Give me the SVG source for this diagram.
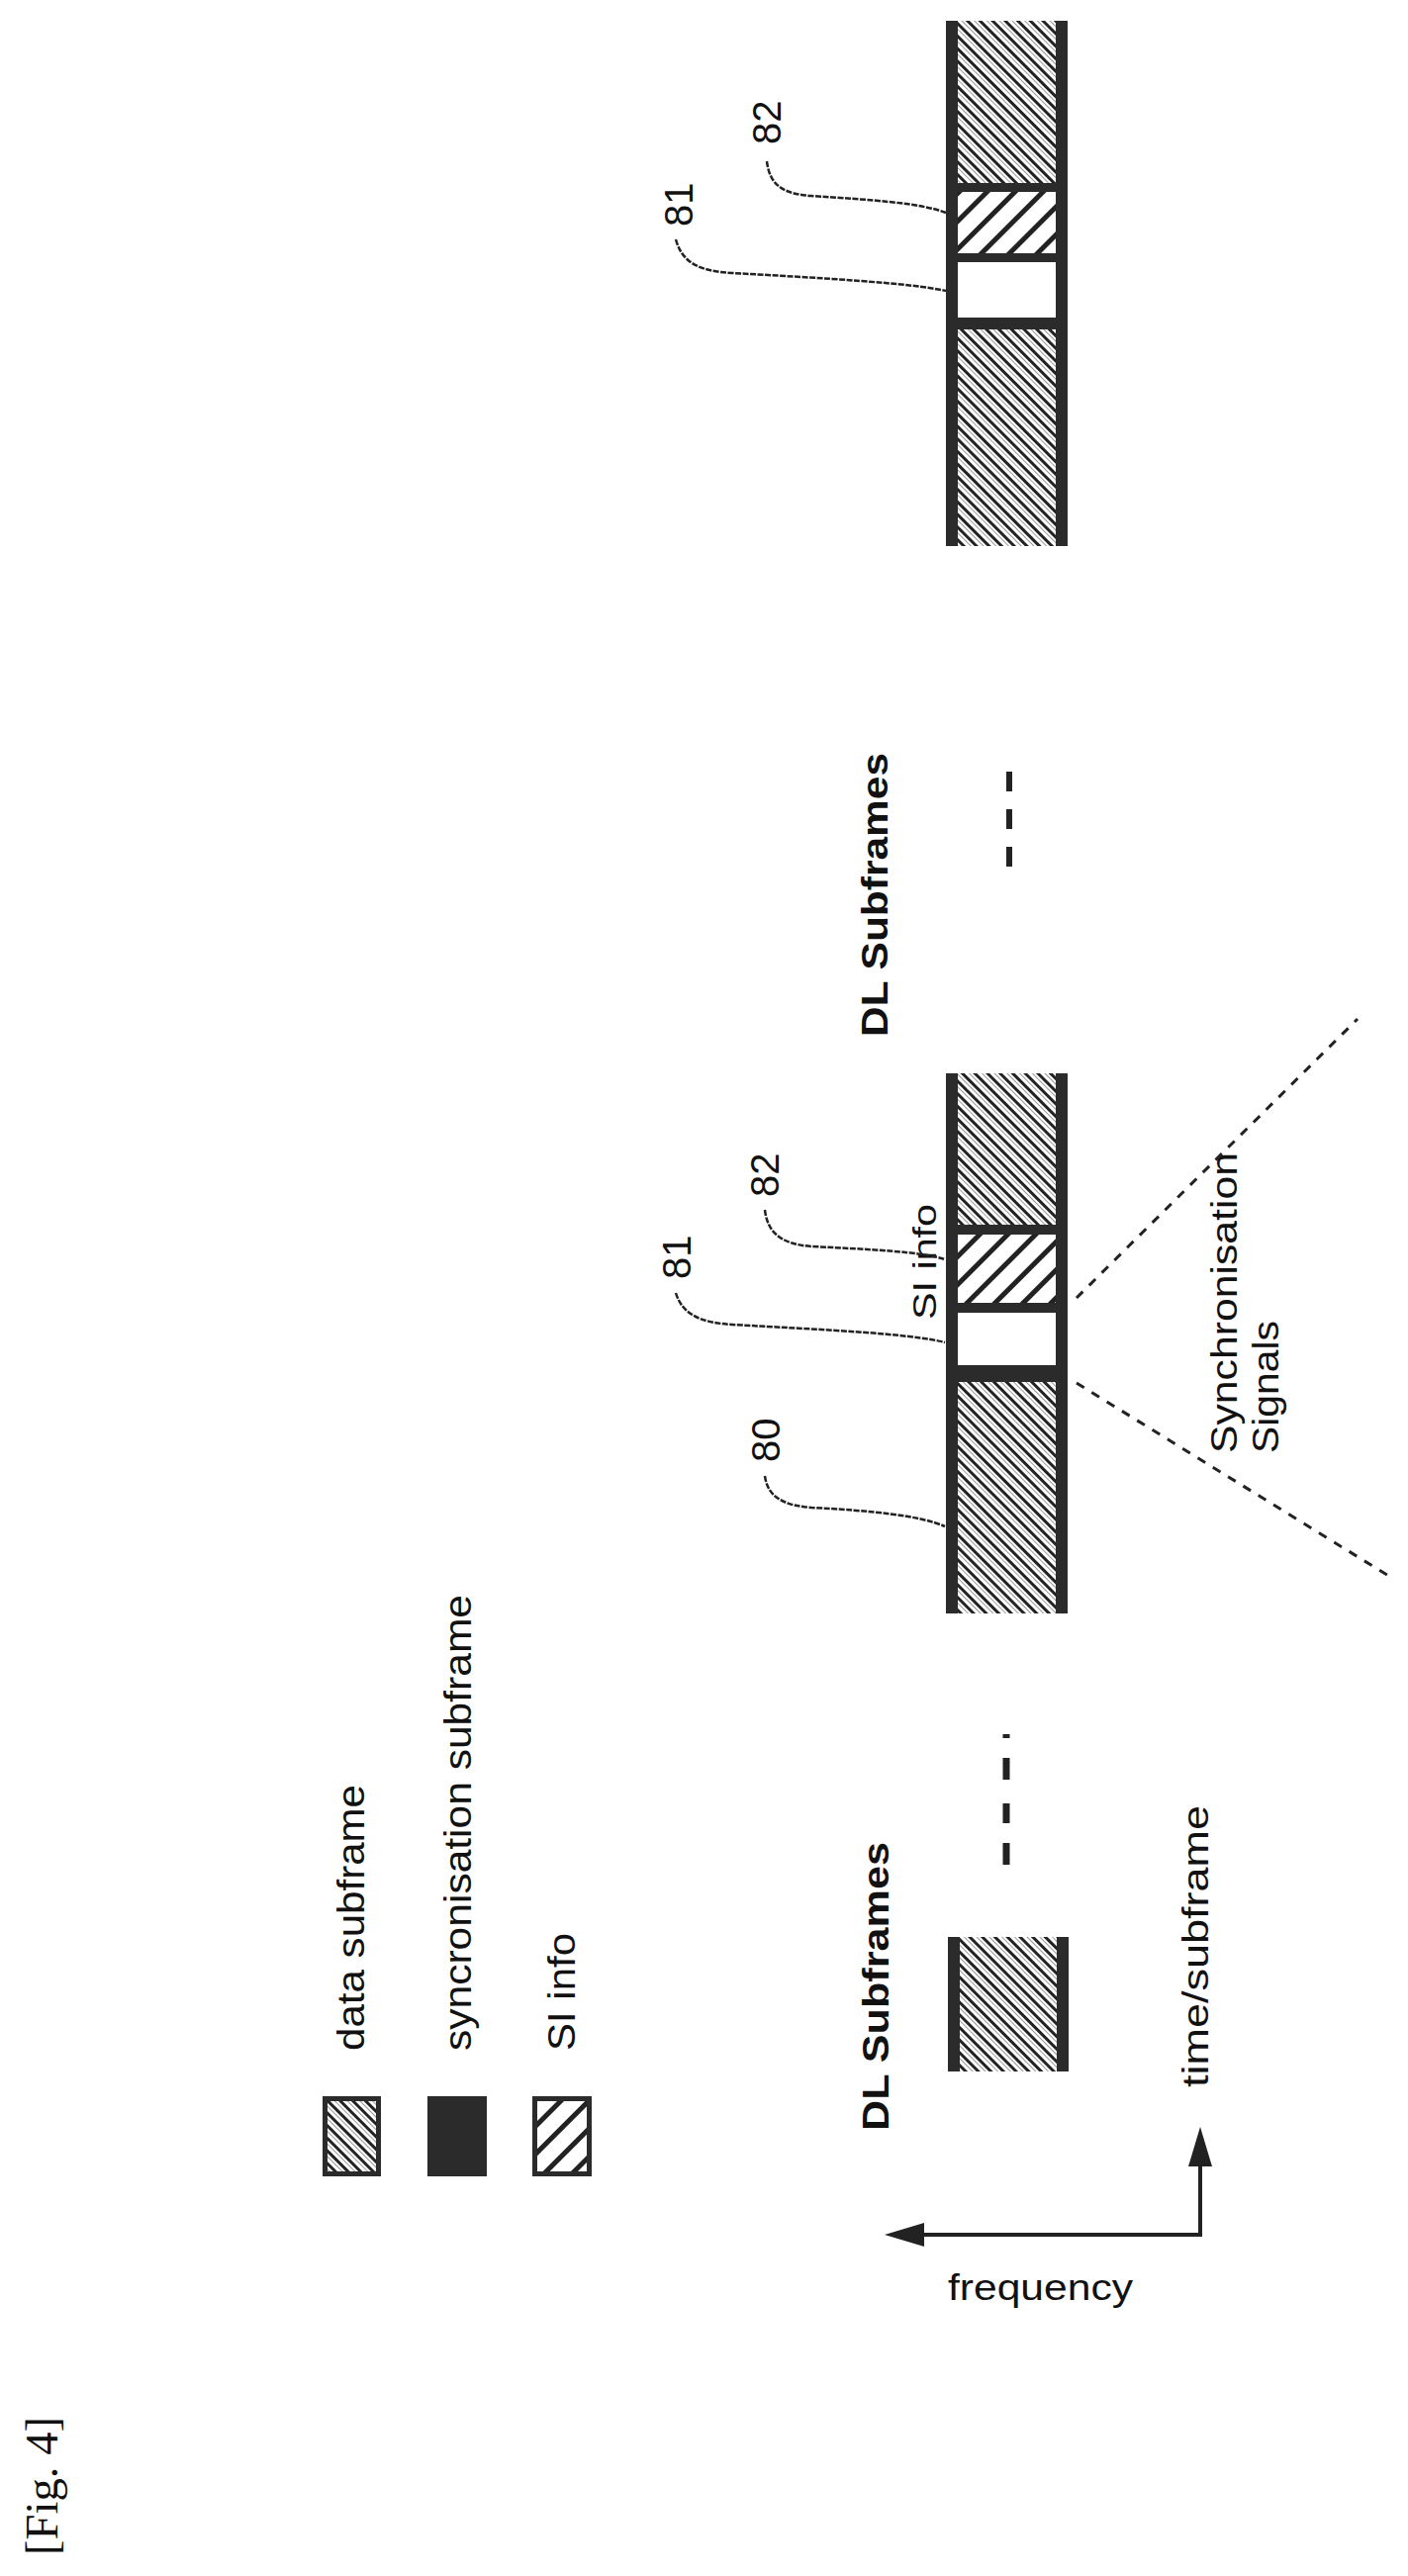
<svg xmlns="http://www.w3.org/2000/svg" width="1423" height="2604" viewBox="0 0 1423 2604">
<style>
.t{font-family:"Liberation Sans",Arial,sans-serif;fill:#111}
.b{font-weight:bold}
.lead{fill:none;stroke:#222;stroke-width:2.5;stroke-dasharray:6 1.5}
.dash{fill:none;stroke:#222;stroke-width:3;stroke-dasharray:9 9}
.dk{fill:#2b2b2b}
</style>
<defs>
<pattern id="data" width="9" height="9" patternUnits="userSpaceOnUse" patternTransform="rotate(-45)">
<rect width="9" height="9" fill="#fff"/>
<rect x="0" y="0" width="3" height="9" fill="#222"/>
<rect x="6" y="0" width="1" height="9" fill="#999"/>
</pattern>
<pattern id="si" width="20" height="20" patternUnits="userSpaceOnUse" patternTransform="rotate(45)">
<rect width="20" height="20" fill="#fff"/>
<rect x="0" y="0" width="5" height="20" fill="#222"/>
</pattern>
</defs>
<rect width="1423" height="2604" fill="#fff"/>

<g id="fig-label"><text class="t" transform="translate(58,2583) rotate(-90)" style="font-family:'Liberation Serif','Times New Roman',serif" font-size="46" textLength="140" lengthAdjust="spacingAndGlyphs">[Fig. 4]</text></g>

<g id="legend">
<rect x="326" y="2119" width="59" height="81" class="dk"/><rect x="331" y="2124" width="49" height="71" fill="url(#data)"/>
<rect x="432" y="2119" width="60" height="81" class="dk"/>
<rect x="538" y="2119" width="60" height="81" class="dk"/><rect x="543" y="2124" width="50" height="71" fill="url(#si)"/>
<text class="t" transform="translate(368,2073) rotate(-90)" font-size="38" textLength="269" lengthAdjust="spacingAndGlyphs">data subframe</text>
<text class="t" transform="translate(476,2073) rotate(-90)" font-size="38" textLength="461" lengthAdjust="spacingAndGlyphs">syncronisation subframe</text>
<text class="t" transform="translate(581,2073) rotate(-90)" font-size="38" textLength="119" lengthAdjust="spacingAndGlyphs">SI info</text>
</g>

<g id="axes">
<text class="t b" transform="translate(898,2154) rotate(-90)" font-size="36" textLength="292" lengthAdjust="spacingAndGlyphs">DL Subframes</text>
<text class="t" transform="translate(1221,2110) rotate(-90)" font-size="36" textLength="285" lengthAdjust="spacingAndGlyphs">time/subframe</text>
<text class="t" x="958" y="2325" font-size="36" textLength="187" lengthAdjust="spacingAndGlyphs">frequency</text>
</g>

<g id="subframe-small">
<rect x="958" y="1958" width="122" height="136" class="dk"/><rect x="970" y="1958" width="98" height="136" fill="url(#data)"/>
</g>

<g id="dots-left">
<line x1="1017" y1="1885" x2="1017" y2="1751" stroke="#222" stroke-width="7" stroke-dasharray="22 20 20 24 22 20 4"/>
</g>

<g id="frame-80">
<rect x="956" y="1085" width="123" height="546" class="dk"/>
<rect x="968" y="1085" width="99" height="153" fill="url(#data)"/>
<rect x="968" y="1248" width="99" height="69" fill="url(#si)"/>
<rect x="968" y="1327" width="99" height="53" fill="#fff"/>
<rect x="968" y="1397" width="99" height="234" fill="url(#data)"/>
<text class="t" transform="translate(946,1334) rotate(-90)" font-size="34" textLength="117" lengthAdjust="spacingAndGlyphs">SI info</text>
<text class="t" transform="translate(787,1210) rotate(-90)" font-size="40">82</text>
<text class="t" transform="translate(698,1293) rotate(-90)" font-size="40">81</text>
<text class="t" transform="translate(788,1478) rotate(-90)" font-size="40">80</text>
</g>

<g id="dl-top">
<text class="t b" transform="translate(897,1048) rotate(-90)" font-size="36" textLength="287" lengthAdjust="spacingAndGlyphs">DL Subframes</text>
<line x1="1020" y1="876" x2="1020" y2="775" stroke="#222" stroke-width="6" stroke-dasharray="20 18"/>
<text class="t" transform="translate(1250,1469) rotate(-90)" font-size="36" textLength="304" lengthAdjust="spacingAndGlyphs">Synchronisation</text>
<text class="t" transform="translate(1292,1469) rotate(-90)" font-size="36" textLength="134" lengthAdjust="spacingAndGlyphs">Signals</text>
</g>

<g id="frame-top">
<rect x="956" y="21" width="123" height="531" class="dk"/>
<rect x="968" y="21" width="99" height="164" fill="url(#data)"/>
<rect x="968" y="194" width="99" height="62" fill="url(#si)"/>
<rect x="968" y="265" width="99" height="56" fill="#fff"/>
<rect x="968" y="333" width="99" height="219" fill="url(#data)"/>
<text class="t" transform="translate(789,146) rotate(-90)" font-size="40">82</text>
<text class="t" transform="translate(700,229) rotate(-90)" font-size="40">81</text>
</g>

<g id="connectors">
<path class="lead" d="M775,163 C778,190 795,196 820,198 C880,202 930,205 956,215"/>
<path class="lead" d="M683,242 C690,268 710,274 740,276 C830,281 920,286 956,294"/>
<path class="lead" d="M773,1223 C776,1250 795,1258 820,1260 C880,1263 930,1265 955,1273"/>
<path class="lead" d="M683,1307 C690,1330 710,1337 740,1339 C830,1344 920,1348 955,1357"/>
<path class="lead" d="M773,1492 C776,1515 795,1522 820,1524 C880,1527 930,1532 955,1543"/>
<line class="dash" x1="1088" y1="1312" x2="1372" y2="1030"/>
<line class="dash" x1="1088" y1="1398" x2="1405" y2="1594"/>
<path d="M1213,2188 L1213,2259 L905,2259" fill="none" stroke="#222" stroke-width="4"/>
<path d="M1213,2150 L1201,2190 L1225,2190 z" fill="#222"/>
<path d="M894,2259 L934,2247 L934,2271 z" fill="#222"/>
</g>
</svg>
